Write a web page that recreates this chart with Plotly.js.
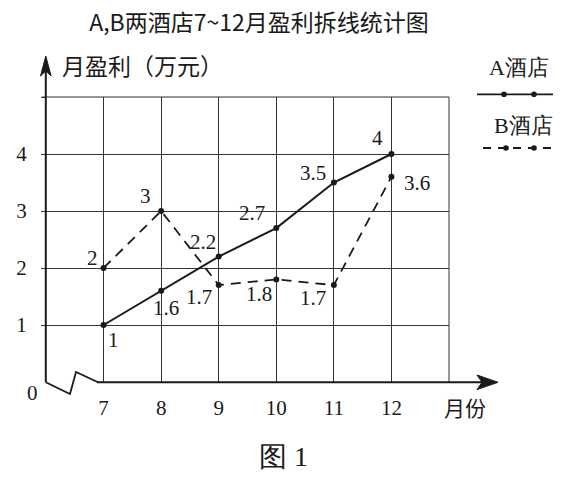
<!DOCTYPE html>
<html>
<head>
<meta charset="utf-8">
<script src="https://cdn.plot.ly/plotly-3.0.1.min.js"></script>
<style>html,body{margin:0;padding:0;background:#fff;}#chart{width:577px;height:478px;}</style>
</head>
<body>
<div id="chart"></div>
<script>
// ---- data ----
const months = [7, 8, 9, 10, 11, 12];
const hotelA = [1, 1.6, 2.2, 2.7, 3.5, 4];
const hotelB = [2, 3, 1.7, 1.8, 1.7, 3.6];
const seriesNames = ['A酒店', 'B酒店'];
const xTickLabels = ['7', '8', '9', '10', '11', '12', ''];
const yTickLabels = ['1', '2', '3', '4', ''];
const chartTitle = 'A,B两酒店7~12月盈利拆线统计图';
const yTitle = '月盈利（万元）';
const xTitle = '月份';
const caption = '图 1';

// ---- label offsets (style, pixels: dx right, dy down) ----
const offA = [[10, 15], [5, 17], [-16, -15], [-24, -15], [-21, -10], [-14, -16]];
const offB = [[-11, -10], [-16, -15], [-20, 12], [-17, 15], [-21, 13], [26, 6]];

// ---- geometry helpers ----
const W = 577, H = 478, L = 46, R = 128, T = 97, B = 96;
const PW = W - L - R, PH = H - T - B;
const px = p => (p - L) / PW;
const py = p => (H - B - p) / PH;

const SERIF = 'Liberation Serif, Times New Roman, DejaVu Serif, serif';
const CJK = 'Noto Sans CJK SC, sans-serif';
const INK = '#1a1a1a';

const traces = [
  {x: months, y: hotelA, name: seriesNames[0], type: 'scatter', mode: 'lines+markers',
   line: {color: INK, width: 2}, marker: {color: INK, size: 6}, cliponaxis: false},
  {x: months, y: hotelB, name: seriesNames[1], type: 'scatter', mode: 'lines+markers',
   line: {color: INK, width: 1.8, dash: '10px,7px'}, marker: {color: INK, size: 6}, cliponaxis: false}
];

const annotations = [];
months.forEach((m, i) => {
  annotations.push({x: m, y: hotelA[i], xref: 'x', yref: 'y', text: String(hotelA[i]), showarrow: false,
    xshift: offA[i][0], yshift: -offA[i][1], font: {family: SERIF, size: 21, color: INK}});
  annotations.push({x: m, y: hotelB[i], xref: 'x', yref: 'y', text: String(hotelB[i]), showarrow: false,
    xshift: offB[i][0], yshift: -offB[i][1], font: {family: SERIF, size: 21, color: INK}});
});
const paperText = (text, cx, cy, size, family) => ({
  x: px(cx), y: py(cy), xref: 'paper', yref: 'paper', text: text, showarrow: false,
  xanchor: 'center', yanchor: 'middle', font: {family: family, size: size, color: INK}
});
annotations.push(paperText(yTitle, 142, 65, 23, CJK));
annotations.push(paperText('0', 32, 393, 21, SERIF));
annotations.push(paperText(xTitle, 465, 407, 21, CJK));
annotations.push(paperText(caption, 283, 456, 28, SERIF));
annotations.push(paperText(seriesNames[0], 519, 68, 22, SERIF));
annotations.push(paperText(seriesNames[1], 523, 125, 22, SERIF));

const P = (pts) => 'M ' + pts.map(p => px(p[0]) + ',' + py(p[1])).join(' L ');
const dot = (cx, cy, r) => ({type: 'circle', xref: 'paper', yref: 'paper',
  x0: px(cx - r), x1: px(cx + r), y0: py(cy + r), y1: py(cy - r),
  fillcolor: INK, line: {color: INK, width: 0}});

const shapes = [
  // top and right frame lines
  {type: 'line', xref: 'paper', yref: 'paper', x0: px(42), x1: 1, y0: 1, y1: 1, line: {color: '#333', width: 1}},
  {type: 'line', xref: 'paper', yref: 'paper', x0: 1, x1: 1, y0: 0, y1: 1, line: {color: '#333', width: 1}},
  // y axis
  {type: 'line', xref: 'paper', yref: 'paper', x0: px(45.8), x1: px(45.8), y0: py(382.3), y1: py(68),
   line: {color: INK, width: 2}},
  {type: 'path', xref: 'paper', yref: 'paper', path: P([[45.8, 56], [40.5, 76], [45.8, 71], [51.1, 76]]) + ' Z',
   fillcolor: INK, line: {color: INK, width: 1}},
  // x axis
  {type: 'line', xref: 'paper', yref: 'paper', x0: px(97), x1: px(486), y0: py(382.3), y1: py(382.3),
   line: {color: INK, width: 2}},
  {type: 'path', xref: 'paper', yref: 'paper', path: P([[498, 382.3], [477, 375], [482, 382.3], [477, 389.6]]) + ' Z',
   fillcolor: INK, line: {color: INK, width: 1}},
  // axis break zigzag
  {type: 'path', xref: 'paper', yref: 'paper', path: P([[45.8, 382.3], [70, 394], [76, 372], [98, 382.3]]),
   line: {color: INK, width: 1.8}},
  // legend samples
  {type: 'line', xref: 'paper', yref: 'paper', x0: px(477), x1: px(553), y0: py(94.3), y1: py(94.3),
   line: {color: INK, width: 1.8}},
  {type: 'line', xref: 'paper', yref: 'paper', x0: px(483), x1: px(554), y0: py(148), y1: py(148),
   line: {color: INK, width: 1.8, dash: '8px,7px'}},
  dot(504, 94.3, 2.8), dot(534, 94.3, 2.8), dot(506, 148, 2.8), dot(534, 148, 2.8)
];

const layout = {
  width: W, height: H,
  margin: {l: L, r: R, t: T, b: B, pad: 0},
  paper_bgcolor: '#fff', plot_bgcolor: '#fff',
  showlegend: false,
  title: {text: chartTitle, x: 259 / W, y: 1 - 23 / H, xref: 'container', yref: 'container',
    xanchor: 'center', yanchor: 'middle', font: {family: CJK, size: 23, color: INK}},
  xaxis: {range: [6, 13], tickvals: [7, 8, 9, 10, 11, 12, 13], ticktext: xTickLabels,
    showgrid: true, gridcolor: '#333', gridwidth: 1, zeroline: false, showline: false,
    ticks: '', ticklabelstandoff: 11, tickfont: {family: SERIF, size: 21, color: INK},
    fixedrange: true, automargin: false},
  yaxis: {range: [0, 5], tickvals: [1, 2, 3, 4, 5], ticktext: yTickLabels,
    showgrid: true, gridcolor: '#333', gridwidth: 1, zeroline: false, showline: false,
    ticks: 'outside', ticklen: 4, tickcolor: '#333', ticklabelstandoff: 10,
    tickfont: {family: SERIF, size: 21, color: INK}, fixedrange: true, automargin: false},
  annotations: annotations,
  shapes: shapes
};

Plotly.newPlot('chart', traces, layout, {displayModeBar: false, staticPlot: true});
</script>
</body>
</html>
